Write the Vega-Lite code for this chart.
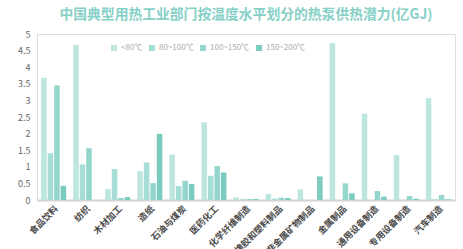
{
  "$schema": "https://vega.github.io/schema/vega-lite/v6.json",
  "autosize": "none",
  "width": 418,
  "height": 166,
  "padding": {"left": 37, "top": 34, "right": 8, "bottom": 49},
  "background": "white",
  "title": {
    "text": "中国典型用热工业部门按温度水平划分的热泵供热潜力(亿GJ)",
    "font": "Noto Sans CJK SC",
    "fontSize": 13.8,
    "fontWeight": "bold",
    "color": "#86d0c6",
    "anchor": "middle",
    "offset": 8
  },
  "data": {
    "values": [
      {"sector": "食品饮料", "temp": "<80℃", "value": 3.68},
      {"sector": "食品饮料", "temp": "80~100℃", "value": 1.41},
      {"sector": "食品饮料", "temp": "100~150℃", "value": 3.45},
      {"sector": "食品饮料", "temp": "150~200℃", "value": 0.43},
      {"sector": "纺织", "temp": "<80℃", "value": 4.67},
      {"sector": "纺织", "temp": "80~100℃", "value": 1.07},
      {"sector": "纺织", "temp": "100~150℃", "value": 1.56},
      {"sector": "纺织", "temp": "150~200℃", "value": 0},
      {"sector": "木材加工", "temp": "<80℃", "value": 0.33},
      {"sector": "木材加工", "temp": "80~100℃", "value": 0.93},
      {"sector": "木材加工", "temp": "100~150℃", "value": 0.06},
      {"sector": "木材加工", "temp": "150~200℃", "value": 0.09},
      {"sector": "造纸", "temp": "<80℃", "value": 0.87},
      {"sector": "造纸", "temp": "80~100℃", "value": 1.13},
      {"sector": "造纸", "temp": "100~150℃", "value": 0.51},
      {"sector": "造纸", "temp": "150~200℃", "value": 1.99},
      {"sector": "石油与煤炭", "temp": "<80℃", "value": 1.37},
      {"sector": "石油与煤炭", "temp": "80~100℃", "value": 0.42},
      {"sector": "石油与煤炭", "temp": "100~150℃", "value": 0.58},
      {"sector": "石油与煤炭", "temp": "150~200℃", "value": 0.48},
      {"sector": "医药化工", "temp": "<80℃", "value": 2.34},
      {"sector": "医药化工", "temp": "80~100℃", "value": 0.73},
      {"sector": "医药化工", "temp": "100~150℃", "value": 1.02},
      {"sector": "医药化工", "temp": "150~200℃", "value": 0.83},
      {"sector": "化学纤维制造", "temp": "<80℃", "value": 0.08},
      {"sector": "化学纤维制造", "temp": "80~100℃", "value": 0.02},
      {"sector": "化学纤维制造", "temp": "100~150℃", "value": 0.03},
      {"sector": "化学纤维制造", "temp": "150~200℃", "value": 0.03},
      {"sector": "橡胶和塑料制品", "temp": "<80℃", "value": 0.18},
      {"sector": "橡胶和塑料制品", "temp": "80~100℃", "value": 0.04},
      {"sector": "橡胶和塑料制品", "temp": "100~150℃", "value": 0.07},
      {"sector": "橡胶和塑料制品", "temp": "150~200℃", "value": 0.06},
      {"sector": "非金属矿物制品", "temp": "<80℃", "value": 0.32},
      {"sector": "非金属矿物制品", "temp": "80~100℃", "value": 0},
      {"sector": "非金属矿物制品", "temp": "100~150℃", "value": 0},
      {"sector": "非金属矿物制品", "temp": "150~200℃", "value": 0.71},
      {"sector": "金属制品", "temp": "<80℃", "value": 4.72},
      {"sector": "金属制品", "temp": "80~100℃", "value": 0},
      {"sector": "金属制品", "temp": "100~150℃", "value": 0.5},
      {"sector": "金属制品", "temp": "150~200℃", "value": 0.2},
      {"sector": "通用设备制造", "temp": "<80℃", "value": 2.6},
      {"sector": "通用设备制造", "temp": "80~100℃", "value": 0},
      {"sector": "通用设备制造", "temp": "100~150℃", "value": 0.27},
      {"sector": "通用设备制造", "temp": "150~200℃", "value": 0.1},
      {"sector": "专用设备制造", "temp": "<80℃", "value": 1.35},
      {"sector": "专用设备制造", "temp": "80~100℃", "value": 0},
      {"sector": "专用设备制造", "temp": "100~150℃", "value": 0.12},
      {"sector": "专用设备制造", "temp": "150~200℃", "value": 0.04},
      {"sector": "汽车制造", "temp": "<80℃", "value": 3.07},
      {"sector": "汽车制造", "temp": "80~100℃", "value": 0.02},
      {"sector": "汽车制造", "temp": "100~150℃", "value": 0.15},
      {"sector": "汽车制造", "temp": "150~200℃", "value": 0.02}
    ]
  },
  "mark": {"type": "bar"},
  "encoding": {
    "x": {
      "field": "sector",
      "type": "nominal",
      "sort": null,
      "scale": {"paddingInner": 0.22, "paddingOuter": 0.13},
      "axis": {
        "title": null,
        "labelAngle": -45,
        "labelFont": "Noto Sans CJK SC",
        "labelFontWeight": "bold",
        "labelFontSize": 9,
        "labelColor": "#4a4a4a",
        "ticks": false,
        "domainColor": "#d4d4d4",
        "domainWidth": 2,
        "labelPadding": 4
      }
    },
    "xOffset": {
      "field": "temp",
      "type": "nominal",
      "sort": ["<80℃", "80~100℃", "100~150℃", "150~200℃"],
      "scale": {"paddingInner": 0.15}
    },
    "y": {
      "field": "value",
      "type": "quantitative",
      "scale": {"domain": [0, 5]},
      "axis": {
        "title": null,
        "values": [0, 0.5, 1, 1.5, 2, 2.5, 3, 3.5, 4, 4.5, 5],
        "format": "~g",
        "grid": false,
        "domain": false,
        "ticks": false,
        "labelFont": "Noto Sans CJK SC",
        "labelFontSize": 9,
        "labelColor": "#666666",
        "labelPadding": 7
      }
    },
    "color": {
      "field": "temp",
      "type": "nominal",
      "sort": ["<80℃", "80~100℃", "100~150℃", "150~200℃"],
      "scale": {
        "domain": ["<80℃", "80~100℃", "100~150℃", "150~200℃"],
        "range": ["#bde6e0", "#a8ddd6", "#94d5cc", "#7bcbc0"]
      },
      "legend": {
        "title": null,
        "orient": "none",
        "direction": "horizontal",
        "legendX": 73,
        "legendY": 10,
        "symbolType": "square",
        "symbolSize": 36,
        "symbolStrokeWidth": 0,
        "labelFont": "Noto Sans CJK SC",
        "labelFontSize": 8,
        "labelColor": "#aaaaaa",
        "columnPadding": 5,
        "labelOffset": 3
      }
    }
  }
}
